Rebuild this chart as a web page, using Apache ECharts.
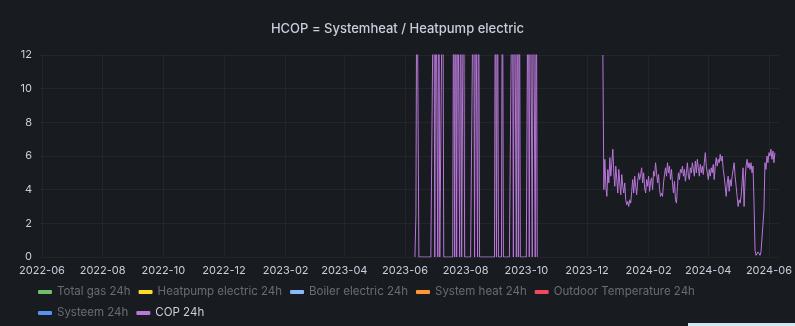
<!DOCTYPE html>
<html>
<head>
<meta charset="utf-8">
<script src="https://cdn.jsdelivr.net/npm/echarts@6/dist/echarts.min.js"></script>
<style>
html,body{margin:0;padding:0;background:#181b1f;}
#chart{width:795px;height:326px;}
</style>
</head>
<body>
<div id="chart"></div>
<script>
// ---- data ----
const chartTitle = 'HCOP = Systemheat / Heatpump electric';
const tickLabels = ['2022-06','2022-08','2022-10','2022-12','2023-02','2023-04','2023-06','2023-08','2023-10','2023-12','2024-02','2024-04','2024-06'];
const axisStart = '2022-05-30';
const axisEnd = '2024-06-11';
const yTicks = [0, 2, 4, 6, 8, 10, 12];

const seriesNames = ['Total gas 24h','Heatpump electric 24h','Boiler electric 24h','System heat 24h','Outdoor Temperature 24h','Systeem 24h','COP 24h'];
const seriesColors = ['#73bf69','#fade2a','#8ab8ff','#ff9830','#f2495c','#5794f2','#b877d9'];

// COP 24h, daily values (summer block)
const summerStart = '2023-06-11';
const summerCop = [
  0, 2.5, 20, 20, 0,
  0,0,0,0,0,0,0,0,0,0,0,0,0,0,
  20,0,20,20,0,20,0,
  0,0,
  20,0,
  0,0,0,0,0,0,0,0,0,
  20,0,20,0,20,20,0,20,0,0,
  20,0,
  0,0,0,0,0,0,0,0,
  20,0,20,20,0,20,0,
  0,0,0,0,0,0,0,0,0,0,0,0,0,0,0,
  20,0,20,0,
  0,0,0,
  20,0,
  0,0,0,0,0,0,0,0,
  20,0,20,20,0,20,0,20,0,
  0,0,0,0,0,0,0,
  20,0,20,20,0,20,20,0,20,0
];
// COP 24h, daily values (winter block)
const winterStart = '2023-12-17';
const winterCop = [
  12, 4.0, 5.8, 4.2, 3.6, 5.2, 4.4, 5.9, 4.8, 5.6,
  6.4, 5.0, 4.2, 5.4, 4.6, 3.8, 5.2, 4.4, 3.7, 4.9,
  4.2, 3.8, 4.4, 3.4, 3.1, 3.3, 3.0, 3.4, 3.2, 3.9,
  4.6, 3.8, 4.8, 4.2, 3.7, 4.5, 5.0, 4.6, 4.9, 5.3,
  4.4, 5.0, 4.1, 3.8, 4.6, 4.2, 4.8, 3.9, 4.5, 4.7,
  4.0, 5.1, 4.8, 5.6, 5.0, 4.4, 4.9, 4.0, 3.6, 3.8,
  3.6, 4.4, 4.9, 5.3, 4.8, 5.6, 5.0, 5.4, 4.6, 5.2,
  4.4, 3.8, 4.5, 3.4, 3.2, 4.2, 5.0, 4.6, 5.2, 5.0,
  5.4, 4.8, 5.2, 4.5, 5.0, 5.6, 4.8, 4.6, 5.3, 5.0,
  5.6, 5.2, 4.8, 5.7, 5.0, 5.8, 5.3, 4.8, 5.5, 5.0,
  5.4, 4.9, 5.6, 6.2, 5.4, 5.0, 4.6, 5.2, 4.8, 5.3,
  5.0, 5.5, 4.6, 5.4, 5.9, 5.4, 5.8, 5.6, 6.1, 5.7,
  6.0, 5.2, 4.8, 4.2, 3.6, 4.4, 4.8, 3.9, 4.6, 4.2,
  4.8, 5.2, 5.6, 4.8, 4.2, 3.6, 3.0, 3.4, 3.2, 3.6,
  4.4, 5.3, 3.0, 4.6, 5.4, 5.8, 5.3, 5.6, 5.2, 5.6,
  5.0, 5.4, 3.2, 0.4, 0.1, 0.2, 0.3, 0.2, 0.1, 0.3,
  0.2, 0.4, 2.8, 5.6, 5.2, 6.0, 5.6, 6.2, 6.0, 6.4,
  5.8, 6.3, 5.6, 6.2
];

// ---- build ----
const DAY = 86400000;
function parseDay(s){ const p = s.split('-').map(Number); return new Date(p[0], p[1]-1, p[2] || 1).getTime(); }
function daily(start, vals){ const t0 = parseDay(start); return vals.map((v,i)=>[t0 + i*DAY, v]); }
const summerData = daily(summerStart, summerCop);
const gapPoint = [summerData[summerData.length-1][0] + DAY, null];
const copData = summerData.concat([gapPoint], daily(winterStart, winterCop));
const tickValues = tickLabels.map(s => parseDay(s));

const dimText = 'rgba(204,204,220,0.45)';
const brightText = '#ccccdc';
const font = 'Inter, "Noto Sans", sans-serif';

const series = seriesNames.map((n,i)=>({
  name: n,
  type: 'line',
  color: seriesColors[i],
  showSymbol: false,
  symbol: 'none',
  connectNulls: false,
  clip: true,
  lineStyle: {width: 1, color: seriesColors[i]},
  data: n === 'COP 24h' ? copData : []
}));

function legendData(names){
  return names.map(n=>({name:n, textStyle:{color: n === 'COP 24h' ? brightText : dimText}}));
}

const chart = echarts.init(document.getElementById('chart'));
chart.setOption({
  backgroundColor: '#181b1f',
  animation: false,
  title: {
    text: chartTitle, left: 'center', top: 18,
    textStyle: {fontFamily: font, fontSize: 13, fontWeight: 500, color: brightText}
  },
  grid: {left: 40, right: 10, top: 55, bottom: 69},
  legend: [
    {data: legendData(seriesNames.slice(0,5)), left: 33, top: 281, icon: 'roundRect', itemWidth: 14, itemHeight: 4, itemGap: 8,
     textStyle: {fontFamily: font, fontSize: 11.5, color: dimText}, selectedMode: false},
    {data: legendData(seriesNames.slice(5)), left: 33, top: 302, icon: 'roundRect', itemWidth: 14, itemHeight: 4, itemGap: 8,
     textStyle: {fontFamily: font, fontSize: 11.5, color: dimText}, selectedMode: false}
  ],
  xAxis: {
    type: 'value',
    min: parseDay(axisStart), max: parseDay(axisEnd),
    axisLine: {show: false},
    axisTick: {show: false, customValues: tickValues},
    axisLabel: {
      customValues: tickValues,
      color: brightText, fontFamily: font, fontSize: 11, margin: 8,
      formatter: v => { const d = new Date(v); return d.getFullYear() + '-' + String(d.getMonth()+1).padStart(2,'0'); }
    },
    splitLine: {show: true, lineStyle: {color: 'rgba(204,204,220,0.06)', width: 1}}
  },
  yAxis: {
    type: 'value', min: yTicks[0], max: yTicks[yTicks.length-1], interval: 2,
    axisLine: {show: false}, axisTick: {show: false},
    axisLabel: {color: brightText, fontFamily: font, fontSize: 11, margin: 8},
    splitLine: {show: true, lineStyle: {color: 'rgba(204,204,220,0.06)', width: 1}}
  },
  graphic: [{type: 'rect', shape: {x: 688, y: 323, width: 107, height: 3}, style: {fill: '#cfe9f3'}, silent: true}],
  series: series
});
</script>
</body>
</html>
